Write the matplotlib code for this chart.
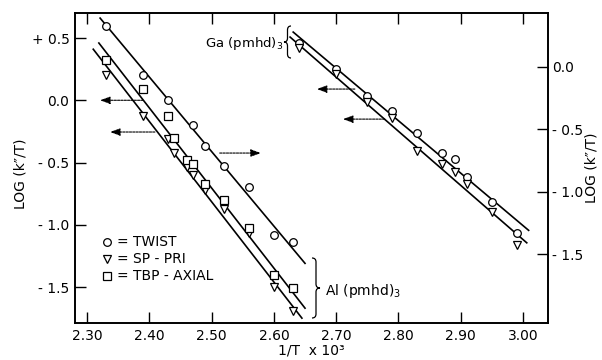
import matplotlib
matplotlib.use("Agg")
import matplotlib.pyplot as plt
from matplotlib.path import Path
from matplotlib.patches import PathPatch

# Al(pmhd)3 points, left axis
al_x_twist = [2.33, 2.39, 2.43, 2.47, 2.49, 2.52, 2.56, 2.60, 2.63]
al_y_twist = [0.60, 0.20, 0.00, -0.20, -0.37, -0.53, -0.70, -1.08, -1.14]
al_x_sp = [2.33, 2.39, 2.43, 2.44, 2.46, 2.47, 2.49, 2.52, 2.56, 2.60, 2.63]
al_y_sp = [0.20, -0.13, -0.31, -0.42, -0.54, -0.60, -0.72, -0.87, -1.07, -1.50, -1.69]
al_x_tbp = [2.33, 2.39, 2.43, 2.44, 2.46, 2.47, 2.49, 2.52, 2.56, 2.60, 2.63]
al_y_tbp = [0.32, 0.09, -0.13, -0.30, -0.48, -0.51, -0.67, -0.80, -1.03, -1.40, -1.51]

# fitted lines (end points)
al_fit_twist = ([2.321, 2.650], [0.66, -1.31])
al_fit_tbp = ([2.319, 2.650], [0.46, -1.67])
al_fit_sp = ([2.310, 2.645], [0.41, -1.75])

# Ga(pmhd)3 points, right axis
ga_x = [2.64, 2.70, 2.75, 2.79, 2.83, 2.87, 2.89, 2.91, 2.95, 2.99]
ga_y_twist = [0.19, -0.02, -0.23, -0.35, -0.53, -0.69, -0.74, -0.88, -1.08, -1.33]
ga_y_sp = [0.15, -0.06, -0.28, -0.41, -0.67, -0.78, -0.84, -0.94, -1.16, -1.43]
ga_fit_twist = ([2.631, 3.009], [0.28, -1.31])
ga_fit_sp = ([2.626, 3.006], [0.24, -1.41])

xticks = [2.30, 2.40, 2.50, 2.60, 2.70, 2.80, 2.90, 3.00]
xtick_labels = ["2.30", "2.40", "2.50", "2.60", "2.70", "2.80", "2.90", "3.00"]
left_ticks = [0.5, 0.0, -0.5, -1.0, -1.5]
left_labels = ["+ 0.5", "0.0", "- 0.5", "- 1.0", "- 1.5"]
right_ticks = [0.0, -0.5, -1.0, -1.5]
right_labels = ["0.0", "- 0.5", "- 1.0", "- 1.5"]

plt.rcParams['font.family'] = ['DejaVu Sans']
fig = plt.figure(figsize=(6.02, 3.6), dpi=100)
ax = fig.add_axes([0.1246, 0.1028, 0.7857, 0.8611])
ax2 = ax.twinx()

mk = dict(mfc='white', mec='black', mew=0.9, ms=5.5, ls='none', zorder=5)
lk = dict(color='black', lw=1.2, zorder=3)

ax.plot(*al_fit_twist, **lk)
ax.plot(*al_fit_tbp, **lk)
ax.plot(*al_fit_sp, **lk)
h1, = ax.plot(al_x_twist, al_y_twist, marker='o', **mk)
h2, = ax.plot(al_x_sp, al_y_sp, marker='v', **mk)
h3, = ax.plot(al_x_tbp, al_y_tbp, marker='s', **mk)

ax2.plot(*ga_fit_twist, **lk)
ax2.plot(*ga_fit_sp, **lk)
ax2.plot(ga_x, ga_y_twist, marker='o', **mk)
ax2.plot(ga_x, ga_y_sp, marker='v', **mk)

ax.set_xlim(2.2807, 3.0401)
ax.set_ylim(-1.789, 0.701)
ax2.set_ylim(-2.053, 0.433)

ax.set_xticks(xticks)
ax.set_xticklabels(xtick_labels, fontsize=10)
ax.set_yticks(left_ticks)
ax.set_yticklabels(left_labels, fontsize=10)
ax2.set_yticks(right_ticks)
ax2.set_yticklabels(right_labels, fontsize=10)
ax.tick_params(axis='x', direction='in', length=8, width=1, top=True, pad=4)
ax.tick_params(axis='y', direction='in', length=8, width=1, pad=4)
ax2.tick_params(axis='y', direction='in', length=8, width=1, pad=3)
for a in (ax, ax2):
    for s in a.spines.values():
        s.set_linewidth(1.2)

ax.set_xlabel("1/T  x 10\u00b3", fontsize=10)
ax.xaxis.set_label_coords(0.5, -0.088)
ax.xaxis.label.set_va('center')
ax.set_ylabel("LOG (k\u2033/T)", fontsize=10)
ax.yaxis.set_label_coords(-0.115, 0.48)
ax.yaxis.label.set_va('center')
ax2.set_ylabel("LOG (k\u2033/T)", fontsize=10, rotation=90)
ax2.yaxis.set_label_coords(1.093, 0.5)
ax2.yaxis.label.set_va('center')

# arrows pointing to the relevant axis
arw = dict(arrowstyle='-|>,head_length=0.6,head_width=0.22', color='black',
           lw=0.8, linestyle=(0, (2, 1)), shrinkA=0, shrinkB=0)
ax.annotate("", xy=(2.321, 0.0), xytext=(2.39, 0.0), arrowprops=arw)
ax.annotate("", xy=(2.337, -0.255), xytext=(2.409, -0.255), arrowprops=arw)
ax.annotate("", xy=(2.579, -0.424), xytext=(2.513, -0.424), arrowprops=arw)
ax2.annotate("", xy=(2.669, -0.177), xytext=(2.730, -0.177), arrowprops=arw)
ax2.annotate("", xy=(2.711, -0.418), xytext=(2.778, -0.418), arrowprops=arw)

# legend
leg = ax.legend([h1, h2, h3], ["= TWIST", "= SP - PRI", "= TBP - AXIAL"],
                loc='upper left', bbox_to_anchor=(0.045, 0.305), frameon=False,
                fontsize=10, handlelength=0.6, handletextpad=0.4,
                labelspacing=0.22, borderpad=0)

# labels with curly braces
fig.text(205 / 602, 1 - 47 / 360, "Ga (pmhd)$_3$", fontsize=9.5)
fig.text(325 / 602, 1 - 295 / 360, "Al (pmhd)$_3$", fontsize=10)


def brace(x0, ytop, ybot, w, right=True):
    # curly brace in pixel coordinates of the figure
    s = 1 if right else -1
    ym = (ytop + ybot) / 2
    d = 4
    pts = [(x0, ytop), (x0 + s * w / 2, ytop), (x0 + s * w / 2, ytop + d),
           (x0 + s * w / 2, ytop + d), (x0 + s * w / 2, ym - d),
           (x0 + s * w / 2, ym), (x0 + s * w, ym),
           (x0 + s * w / 2, ym), (x0 + s * w / 2, ym + d),
           (x0 + s * w / 2, ybot - d),
           (x0 + s * w / 2, ybot), (x0, ybot)]
    codes = [Path.MOVETO, Path.CURVE3, Path.CURVE3,
             Path.LINETO, Path.LINETO,
             Path.CURVE3, Path.CURVE3,
             Path.CURVE3, Path.CURVE3,
             Path.LINETO,
             Path.CURVE3, Path.CURVE3]
    pts = [(px / 602, 1 - py / 360) for px, py in pts]
    fig.add_artist(PathPatch(Path(pts, codes), fill=False, lw=0.9,
                             transform=fig.transFigure))


brace(291, 26, 58, 7, right=False)
brace(312, 258, 318, 8, right=True)

fig.savefig("out.png", dpi=100)
